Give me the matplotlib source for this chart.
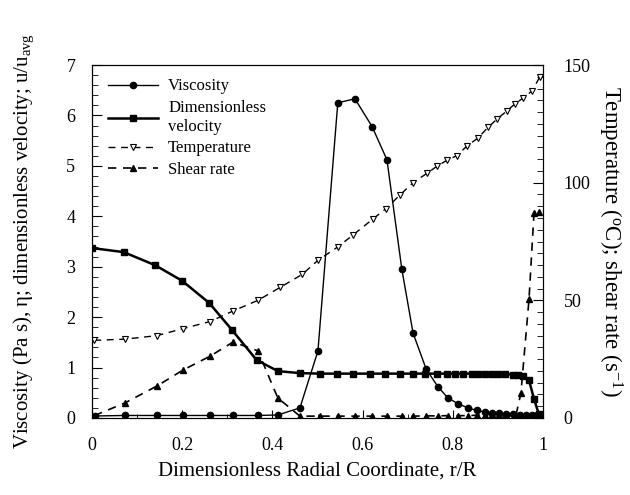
import matplotlib
matplotlib.use("Agg")
import matplotlib.pyplot as plt
from matplotlib.ticker import MultipleLocator, FuncFormatter

plt.rcParams['font.family'] = ['Liberation Serif', 'DejaVu Serif']
plt.rcParams['mathtext.fontset'] = 'custom'
plt.rcParams['mathtext.rm'] = 'Liberation Serif'
plt.rcParams['mathtext.it'] = 'Liberation Serif:italic'

# ---- data ----
visc_r = [0.007, 0.073, 0.144, 0.202, 0.262, 0.313, 0.368, 0.412, 0.461, 0.501,
          0.545, 0.583, 0.621, 0.654, 0.687, 0.712, 0.741, 0.767, 0.789, 0.812,
          0.834, 0.853, 0.871, 0.887, 0.902, 0.918, 0.933, 0.948, 0.962, 0.975,
          0.986, 0.995]
visc = [0.04, 0.05, 0.05, 0.05, 0.05, 0.05, 0.05, 0.06, 0.2, 1.33,
        6.25, 6.33, 5.78, 5.12, 2.95, 1.68, 0.97, 0.62, 0.4, 0.28,
        0.2, 0.15, 0.12, 0.1, 0.09, 0.08, 0.07, 0.06, 0.06, 0.05,
        0.05, 0.04]

vel_r = [0.0, 0.07, 0.14, 0.2, 0.26, 0.31, 0.365, 0.412, 0.461, 0.505,
         0.543, 0.579, 0.616, 0.65, 0.683, 0.712, 0.738, 0.765, 0.787, 0.805,
         0.823, 0.843, 0.856, 0.871, 0.887, 0.9, 0.916, 0.933, 0.945, 0.956,
         0.969, 0.98, 0.991]
vel = [3.37, 3.29, 3.03, 2.72, 2.28, 1.75, 1.15, 0.93, 0.89, 0.88,
       0.88, 0.88, 0.88, 0.88, 0.88, 0.88, 0.88, 0.88, 0.88, 0.88,
       0.88, 0.88, 0.88, 0.88, 0.88, 0.88, 0.87, 0.86, 0.85, 0.83,
       0.75, 0.38, 0.07]

temp_r = [0.005, 0.073, 0.144, 0.202, 0.262, 0.313, 0.368, 0.417, 0.466, 0.501,
          0.545, 0.579, 0.623, 0.652, 0.683, 0.712, 0.743, 0.765, 0.787, 0.809,
          0.831, 0.856, 0.878, 0.898, 0.92, 0.938, 0.956, 0.976, 0.993]
temp = [33, 33.5, 35, 38, 41, 45.5, 50, 55.5, 61, 67,
        72.7, 77.8, 84.6, 89, 94.8, 100, 104, 107, 109.5, 111.5,
        115.5, 119, 123.5, 127, 130.5, 133.5, 136, 139, 145]

shear_r = [0.005, 0.073, 0.144, 0.202, 0.262, 0.313, 0.368, 0.412, 0.461, 0.505,
           0.545, 0.583, 0.621, 0.654, 0.687, 0.712, 0.741, 0.767, 0.789, 0.812,
           0.834, 0.853, 0.871, 0.887, 0.902, 0.918, 0.94, 0.951, 0.969, 0.98,
           0.991]
shear = [1, 6.4, 13.6, 20.4, 26.3, 32.3, 28.5, 8.5, 0.8, 0.8,
         0.8, 0.8, 0.8, 0.8, 0.8, 0.8, 0.9, 0.9, 1.0, 1.0,
         1.0, 1.2, 1.4, 1.5, 1.5, 1.5, 1.2, 10.5, 50.5, 87, 87.6]

x_ticks = [0, 0.2, 0.4, 0.6, 0.8, 1.0]
left_ticks = [0, 1, 2, 3, 4, 5, 6, 7]
right_ticks = [0, 50, 100, 150]

# ---- figure ----
fig = plt.figure(figsize=(6.3, 4.95), dpi=100)
ax = fig.add_axes([92/630, 1 - 418/495, (543-92)/630, (418-65)/495])
ax2 = ax.twinx()

l1, = ax.plot(visc_r, visc, '-', color='black', lw=1.0, marker='o', ms=4.5,
              label='Viscosity')
l2, = ax.plot(vel_r, vel, '-', color='black', lw=1.8, marker='s', ms=5,
              label='Dimensionless\nvelocity')
l3, = ax2.plot(temp_r, temp, color='black', lw=1.0, marker='v', ms=5,
               mfc='white', mec='black', mew=0.8, dashes=(5, 4),
               label='Temperature')
l4, = ax2.plot(shear_r, shear, color='black', lw=1.2, marker='^', ms=5,
               dashes=(5, 4), label='Shear rate')

ax.set_xlim(0, 1)
ax.set_ylim(0, 7)
ax2.set_ylim(0, 150)

ax.set_xticks(x_ticks)
ax.xaxis.set_major_formatter(FuncFormatter(lambda v, p: '%g' % v))
ax.xaxis.set_minor_locator(MultipleLocator(0.1))
ax.set_yticks(left_ticks)
ax.yaxis.set_minor_locator(MultipleLocator(0.2))
ax2.set_yticks(right_ticks)
ax2.yaxis.set_minor_locator(MultipleLocator(5))

ax.tick_params(axis='x', which='both', direction='in', labelsize=13, pad=14,
               top=False)
ax.tick_params(axis='x', which='major', length=6)
ax.tick_params(axis='x', which='minor', length=3)
ax.tick_params(axis='y', which='both', direction='in', labelsize=13, pad=12,
               right=False)
ax.tick_params(axis='y', which='major', length=7)
ax.tick_params(axis='y', which='minor', length=4)
ax2.tick_params(axis='y', which='both', direction='in', labelsize=13, pad=15)
ax2.tick_params(axis='y', which='major', length=7)
ax2.tick_params(axis='y', which='minor', length=4)

ax.set_xlabel('Dimensionless Radial Coordinate, r/R', fontsize=15, labelpad=5)
ax.set_ylabel('Viscosity (Pa s), η; dimensionless velocity; u/u$_{\\mathrm{avg}}$',
              fontsize=15, labelpad=22)
ax2.set_ylabel('Temperature ($^{\\mathrm{o}}$C); shear rate (s$^{\\mathrm{-1}}$)',
               fontsize=16.5, rotation=-90, labelpad=24)

leg = ax.legend(handles=[l1, l2, l3, l4], loc='upper left',
                bbox_to_anchor=(0.01, 0.995), frameon=False, fontsize=12,
                handlelength=3.0, handletextpad=0.6, labelspacing=0.35,
                borderpad=0.2)

fig.savefig('out.png', dpi=100)
